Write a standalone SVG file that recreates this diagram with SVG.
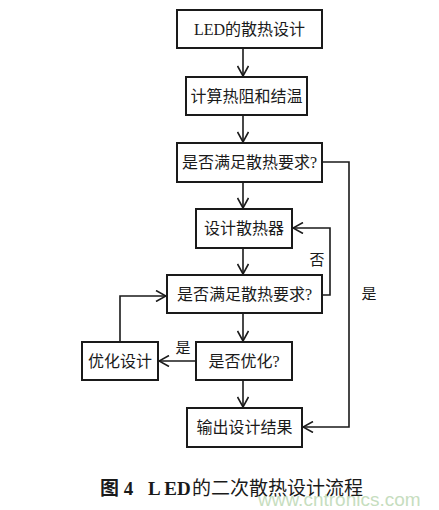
<svg xmlns="http://www.w3.org/2000/svg" width="439" height="510" viewBox="0 0 439 510">
<defs>
<marker id="arr" viewBox="0 0 12 12" refX="11" refY="6" markerWidth="12" markerHeight="12" markerUnits="userSpaceOnUse" orient="auto">
<path d="M1,0.5 L11,6 L1,11.5" fill="none" stroke="#1a1a1a" stroke-width="1.6"/>
</marker>
<style>
.box{fill:#fff;stroke:#1a1a1a;stroke-width:2}
.t{font-family:"Liberation Serif","Noto Sans CJK SC",serif;font-size:16px;fill:#1a1a1a;text-anchor:middle}
.l{font-family:"Liberation Serif","Noto Sans CJK SC",serif;font-size:15px;fill:#1a1a1a;text-anchor:middle}
.c{fill:none;stroke:#1a1a1a;stroke-width:1.6}
.cap{font-family:"Liberation Serif","Noto Sans CJK SC",serif;font-size:19px;fill:#1a1a1a}
</style>
</defs>
<rect width="439" height="510" fill="#fff"/>
<g id="connectors">
<path class="c" d="M243,48 V76" marker-end="url(#arr)"/>
<path class="c" d="M243,115 V142" marker-end="url(#arr)"/>
<path class="c" d="M243,182 V208" marker-end="url(#arr)"/>
<path class="c" d="M243,248 V274" marker-end="url(#arr)"/>
<path class="c" d="M243,313 V341" marker-end="url(#arr)"/>
<path class="c" d="M243,380 V407" marker-end="url(#arr)"/>
<path class="c" d="M322,295 H330 V228 H293" marker-end="url(#arr)"/>
<path class="c" d="M196,361 H159" marker-end="url(#arr)"/>
<path class="c" d="M120,342 V296 H166" marker-end="url(#arr)"/>
<path class="c" d="M322,162 H349 V427 H303" marker-end="url(#arr)"/>
<text class="l" x="317" y="265">否</text>
<text class="l" x="183" y="353">是</text>
<text class="l" x="369" y="299">是</text>
</g>
<g id="n1"><rect class="box" x="177" y="10" width="145" height="38"/><text class="t" x="249.5" y="35">LED的散热设计</text></g>
<g id="n2"><rect class="box" x="186" y="77" width="121" height="38"/><text class="t" x="246.5" y="102">计算热阻和结温</text></g>
<g id="n3"><rect class="box" x="177" y="143" width="145" height="39"/><text class="t" x="249.5" y="168">是否满足散热要求?</text></g>
<g id="n4"><rect class="box" x="196" y="209" width="96" height="39"/><text class="t" x="244" y="234">设计散热器</text></g>
<g id="n5"><rect class="box" x="167" y="275" width="155" height="38"/><text class="t" x="244.5" y="300">是否满足散热要求?</text></g>
<g id="n6"><rect class="box" x="82" y="342" width="76" height="38"/><text class="t" x="120" y="367">优化设计</text></g>
<g id="n7"><rect class="box" x="196" y="342" width="96" height="38"/><text class="t" x="244" y="367">是否优化?</text></g>
<g id="n8"><rect class="box" x="187" y="408" width="115" height="39"/><text class="t" x="244.5" y="433">输出设计结果</text></g>
<text class="cap" y="495"><tspan x="100" font-weight="bold">图 4</tspan><tspan x="148" font-weight="bold">L ED</tspan><tspan x="192">的二次散热设计流程</tspan></text>
<text x="258" y="506" style="font-family:'Liberation Sans',sans-serif;font-size:19px;fill:#b9d6b0;opacity:0.8">www.cntronics.com</text>
</svg>
